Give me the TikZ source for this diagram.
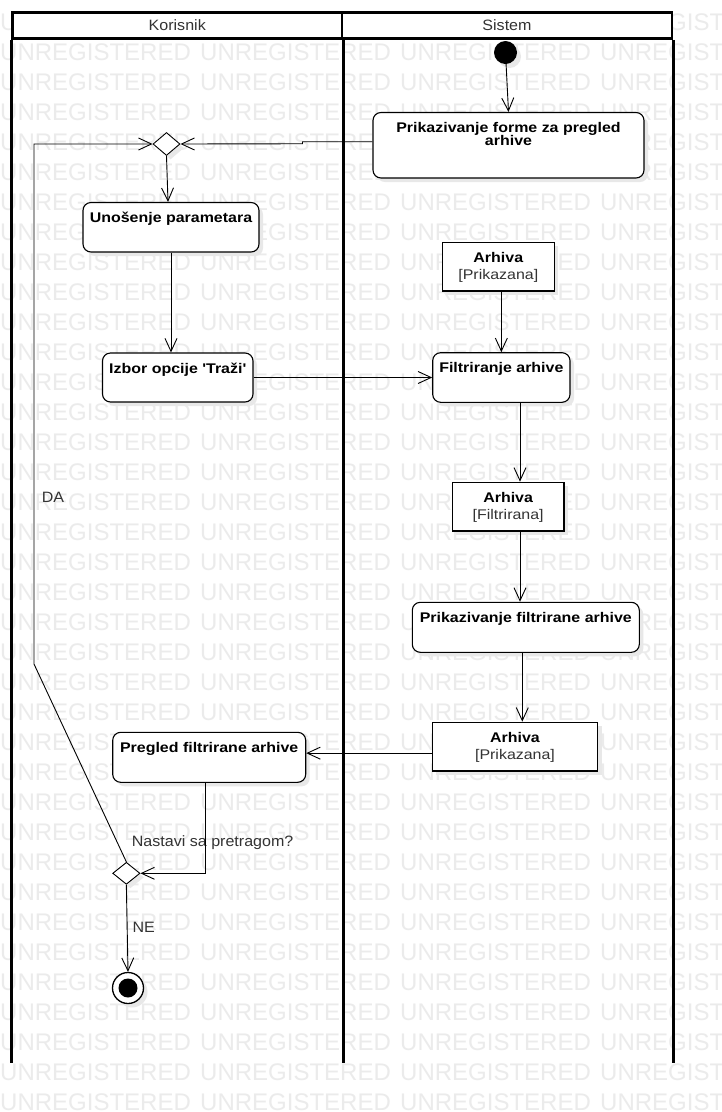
\documentclass[tikz,border=0pt]{standalone}
\usepackage{fontspec}
\setmainfont{Liberation Sans}
\newfontfamily\actfont{Liberation Sans}[FakeStretch=1.14,Ligatures=TeXOff]
\newfontfamily\lblfont{Liberation Sans}[FakeStretch=1.07]
\newfontfamily\wmfont{Liberation Sans}
\usetikzlibrary{shapes.geometric,arrows.meta,shadows,calc}
\definecolor{wmgray}{HTML}{EBEBEB}
\definecolor{txtgray}{HTML}{333333}
\begin{document}
\begin{tikzpicture}[x=1pt,y=-1pt,
  wm/.style={font=\wmfont\fontsize{24}{24}\selectfont, text=wmgray, inner sep=0pt, anchor=base west},
  lane/.style={line width=2.6pt, draw=black},
  hdr/.style={draw=black, line width=2.6pt, fill=white, font=\lblfont\fontsize{15}{17}\selectfont, text=txtgray, inner sep=0pt},
  shad/.style={drop shadow={shadow xshift=4pt, shadow yshift=-4pt, fill=black!9, opacity=1}},
  act/.style={draw=black, line width=1.1pt, rounded corners=8pt, fill=white, inner sep=0pt, shad},
  obj/.style={draw=black, line width=1.3pt, fill=white, inner sep=0pt, shad},
  dec/.style={diamond, draw=black, line width=0.9pt, fill=white, inner sep=0pt, minimum width=27pt, minimum height=23pt, shad},
  atxt/.style={font=\actfont\fontsize{14}{16}\selectfont\bfseries, inner sep=0pt, anchor=base},
  otxt/.style={font=\actfont\fontsize{14}{16}\selectfont, text=txtgray, inner sep=0pt, anchor=base},
  lbl/.style={font=\lblfont\fontsize{15}{17}\selectfont, text=txtgray, inner sep=0pt, anchor=base west},
  arr/.style={line width=0.9pt, draw=black, -{Straight Barb[length=13pt,width=12pt]}},
]
\useasboundingbox (0,0) rectangle (722,1112);
\fill[white] (0,0) rectangle (722,1112);
% watermark
\begin{scope}
\clip (0,0) rectangle (722,1112);
\foreach \r in {0,...,36}{
  \foreach \c in {0,...,3}{
    \node[wm] (w-\r-\c) at ({200*\c},{30.6+30*\r}) {UNREGISTERED};
  }
}
\end{scope}
% swimlanes
\node[hdr, minimum width=329.5pt, minimum height=26pt] (hK) at (177.25,25.5) {Korisnik};
\node[hdr, minimum width=330pt, minimum height=26pt] (hS) at (507,25.5) {Sistem};
\draw[lane] (hK.south west) -- ++(0,1023.5);
\draw[lane] (hK.south east) -- ++(0,1023.5);
\draw[lane] (hS.south east) -- ++(0,1023.5);
% nodes
\node[circle, fill=black, minimum size=23pt, inner sep=0pt, shad] (init) at (505.5,52.5) {};
\node[act, minimum width=271pt, minimum height=65.5pt] (a1) at (508.5,145.25) {};
\node[atxt] (a1t1) at ($(a1.north)+(0,20.2)$) {Prikazivanje forme za pregled};
\node[atxt] (a1t2) at ($(a1.north)+(0,33.5)$) {arhive};
\node[dec] (dec1) at (166.5,144) {};
\node[act, minimum width=176pt, minimum height=49.5pt] (a2) at (171,227.25) {};
\node[atxt] (a2t) at ($(a2.north)+(0,20.8)$) {Unošenje parametara};
\node[act, minimum width=150.5pt, minimum height=49pt] (a3) at (177.75,377.5) {};
\node[atxt] (a3t) at ($(a3.north)+(0,21)$) {Izbor opcije 'Traži'};
\node[obj, minimum width=112pt, minimum height=48.7pt] (o1) at (498.3,266.65) {};
\node[atxt] (o1t1) at ($(o1.north)+(0,21)$) {Arhiva};
\node[otxt] (o1t2) at ($(o1.north)+(0,38)$) {[Prikazana]};
\node[act, minimum width=137.3pt, minimum height=49.6pt] (a4) at (501.35,377.5) {};
\node[atxt] (a4t) at ($(a4.north)+(0,20.7)$) {Filtriranje arhive};
\node[obj, minimum width=111.7pt, minimum height=48.7pt] (o2) at (508.15,506.65) {};
\node[atxt] (o2t1) at ($(o2.north)+(0,21)$) {Arhiva};
\node[otxt] (o2t2) at ($(o2.north)+(0,38)$) {[Filtrirana]};
\node[act, minimum width=227pt, minimum height=50pt] (a5) at (525.8,627.3) {};
\node[atxt] (a5t) at ($(a5.north)+(0,21)$) {Prikazivanje filtrirane arhive};
\node[obj, minimum width=165.4pt, minimum height=48.7pt] (o3) at (515,746.65) {};
\node[atxt] (o3t1) at ($(o3.north)+(0,21)$) {Arhiva};
\node[otxt] (o3t2) at ($(o3.north)+(0,38)$) {[Prikazana]};
\node[act, minimum width=193pt, minimum height=50pt] (a6) at (209.2,757.3) {};
\node[atxt] (a6t) at ($(a6.north)+(0,21)$) {Pregled filtrirane arhive};
\node[dec, minimum width=27.3pt, minimum height=22pt] (dec2) at (126.35,873.3) {};
\node[circle, draw=black, line width=1.3pt, fill=white, minimum size=31pt, inner sep=0pt, shad] (fin) at (128,988) {};
\node[circle, fill=black, minimum size=19pt, inner sep=0pt] (finc) at (fin.center) {};
% labels
\node[lbl] (lDA) at (41.7,502.7) {DA};
\node[lbl] (lNast) at (131.7,846.7) {Nastavi sa pretragom?};
\node[lbl] (lNE) at (132.3,932.3) {NE};
% connectors
\coordinate (lp1) at (34,664);
\coordinate (lp2) at (34,144);
\draw[arr] (init) -- (a1.north);
\draw[arr] ([yshift=3.5pt]a1.west) -- ++(-70,0) -- ++(0,2) -- (dec1.east);
\draw[arr] (dec2.north) -- (lp1) -- (lp2) -- (dec1.west);
\draw[arr] (dec1.south) -- ([xshift=-3pt]a2.north);
\draw[arr] (a2.south) -- (a2.south |- a3.north);
\draw[arr] (a3.east) -- (a4.west);
\draw[arr] (a4.north |- o1.south) -- (a4.north);
\draw[arr] ([xshift=18.65pt]a4.south) -- ([xshift=18.65pt]a4.south |- o2.north);
\draw[arr] ([xshift=11.85pt]o2.south) -- ([xshift=11.85pt]o2.south |- a5.north);
\draw[arr] ([xshift=-3.5pt]a5.south) -- ([xshift=-3.5pt]a5.south |- o3.north);
\draw[arr] ([yshift=-6.5pt]o3.west) -- ([yshift=-6.5pt]o3.west -| a6.east);
\draw[arr] ([xshift=-4.2pt]a6.south) |- (dec2.east);
\draw[arr] (dec2.south) -- (fin.north);
\end{tikzpicture}
\end{document}
